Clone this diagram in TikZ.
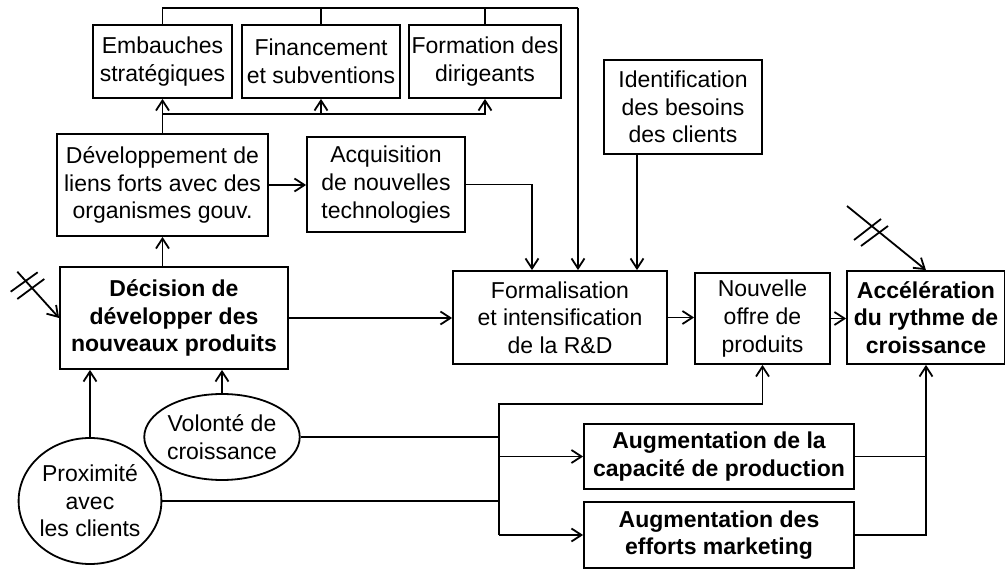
\documentclass[tikz,border=0pt]{standalone}
\usepackage{fontspec}
\setmainfont{Liberation Sans}
\usetikzlibrary{arrows.meta,shapes.geometric}
\begin{document}
\begin{tikzpicture}[x=1pt,y=-1pt,
  every node/.style={font=\fontsize{23}{27.6}\selectfont, align=center, inner sep=0pt},
  box/.style={draw, line width=1.8pt, rectangle},
  oval/.style={draw, line width=1.8pt, ellipse},
  conn/.style={line width=1.8pt},
  arr/.style={conn, -{Straight Barb[length=10pt,width=13pt,line width=1.8pt]}},
  hashmark/.style={line width=1.8pt}]
\useasboundingbox[fill=white] (0,0) rectangle (1005,569);
% boxes
\node[box, minimum width=139pt, minimum height=73pt] (emb) at (162.5,61.5) {Embauches\\strat\'egiques};
\node[box, minimum width=158pt, minimum height=73pt] (fin) at (321,61.5) {Financement\\et subventions};
\node[box, minimum width=152pt, minimum height=73pt] (form) at (485,61.5) {Formation des\\dirigeants};
\node[box, minimum width=211pt, minimum height=102pt] (dev) at (162.5,185) {D\'eveloppement de\\liens forts avec des\\organismes gouv.};
\node[box, minimum width=158pt, minimum height=95pt] (acq) at (386,184.5) {Acquisition\\de nouvelles\\technologies};
\node[box, minimum width=158pt, minimum height=94pt] (ident) at (683,107) {Identification\\des besoins\\des clients};
\node[box, minimum width=228pt, minimum height=102pt, font=\fontsize{23}{27.6}\selectfont\bfseries] (dec) at (174,318) {D\'ecision de\\d\'evelopper des\\nouveaux produits};
\node[box, minimum width=214pt, minimum height=93pt] (rd) at (560,317.5) {Formalisation\\et intensification\\de la R\&D};
\node[box, minimum width=135pt, minimum height=91pt] (nou) at (762.5,318.5) {Nouvelle\\offre de\\produits};
\node[box, minimum width=158pt, minimum height=93pt, font=\fontsize{23}{27.6}\selectfont\bfseries] (acc) at (926,317.5) {Acc\'el\'eration\\du rythme de\\croissance};
\node[box, minimum width=270pt, minimum height=65pt, font=\fontsize{23}{27.6}\selectfont\bfseries] (cap) at (719,456.5) {Augmentation de la\\capacit\'e de production};
\node[box, minimum width=270pt, minimum height=66pt, font=\fontsize{23}{27.6}\selectfont\bfseries] (mkt) at (719,535) {Augmentation des\\efforts marketing};
\node[oval, minimum width=146pt, minimum height=86pt] (vol) at (222,437) {Volont\'e de\\croissance};
\node[oval, minimum width=142pt, minimum height=126pt] (prox) at (90,501) {Proximit\'e\\avec\\les clients};
% coordinates
\coordinate (b1) at (162.5,114);
\coordinate (t1) at (578,8);
\coordinate (a1) at (532,186);
\coordinate (busTop) at (499,404);
\coordinate (busBot) at (499,535);
\coordinate (h1s) at (17.3,271.7);
\coordinate (h2s) at (847,206);
% connectors
\draw[arr] (dec.north -| dev.south) -- (dev.south);
\draw[arr] (dev.north) -- (emb.south);
\draw[arr] (b1) -| (fin.south);
\draw[arr] (b1) -| (form.south);
\draw[conn] (emb.north) |- (t1);
\draw[conn] (fin.north) -- (fin.north |- t1);
\draw[conn] (form.north) -- (form.north |- t1);
\draw[arr] (t1) -- (t1 |- rd.north);
\draw[arr] (dev.east) -- (dev.east -| acq.west);
\draw[arr] (acq.east) -| (a1 |- rd.north);
\draw[arr] (ident.south -| 637,0) -- (rd.north -| 637,0);
\draw[arr] (dec.east) -- (dec.east -| rd.west);
\draw[arr] (rd.east) -- (rd.east -| nou.west);
\draw[arr] (nou.east) -- (nou.east -| acc.west);
\draw[arr] (prox.north) -- (prox.north |- dec.south);
\draw[arr] (vol.north) -- (vol.north |- dec.south);
\draw[conn] (vol.east) -- (vol.east -| busTop);
\draw[conn] (prox.east) -- (prox.east -| busTop);
\draw[arr] (busBot) -- (busTop) -| (nou.south);
\draw[arr] (cap.west -| busTop) -- (cap.west);
\draw[arr] (busBot) -- (mkt.west);
\draw[conn] (cap.east) -- (cap.east -| acc.south);
\draw[arr] (mkt.east) -| (acc.south);
\draw[arr] (h1s) -- (dec.west);
\draw[arr] (h2s) -- (acc.north);
% hash marks
\draw[hashmark] (10.7,291.7) -- (37.7,272.3);
\draw[hashmark] (17.3,299) -- (44.3,279);
\draw[hashmark] (854,240) -- (881,219);
\draw[hashmark] (861,246) -- (888,226);
\end{tikzpicture}
\end{document}
